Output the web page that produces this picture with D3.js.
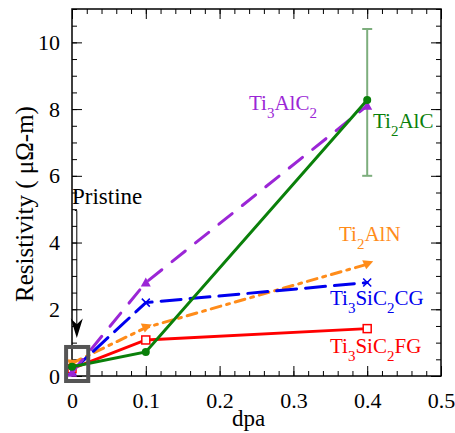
<!DOCTYPE html>
<html><head><meta charset="utf-8"><script src="https://cdn.jsdelivr.net/npm/d3@7"></script></head>
<body style="margin:0">
<script>
var svgWidth = 455;
var svgHeight = 433;

// data
var dpa = [0, 0.1, 0.4];
var ti3alc2 = [0.1, 2.8, 8.1];
var ti2alc = [0.28, 0.72, 8.27];
var ti2aln = [0.38, 1.45, 3.35];
var ti3sic2CG = [0.15, 2.2, 2.8];
var ti3sic2FG = [0.22, 1.08, 1.42];
var ti2alcErr = [6.0, 10.4];   // error bar at 0.4 dpa
var xTicks = [0, 0.1, 0.2, 0.3, 0.4, 0.5];
var yTicks = [0, 2, 4, 6, 8, 10];

var margin = { top: 9, right: 14, bottom: 57, left: 72 };
var width = svgWidth - margin.left - margin.right;
var height = svgHeight - margin.top - margin.bottom;
var FONT = '"Liberation Serif", monospace';

var svg = d3.select("body").append("svg")
    .attr("width", svgWidth)
    .attr("height", svgHeight);

var g = svg.append("g")
    .attr("transform", `translate(${margin.left}, ${margin.top})`);

var x = d3.scaleLinear().domain([0, 0.5]).range([0, width]);
var y = d3.scaleLinear().domain([0, 11]).range([height, 0]);

var minorX = d3.range(0, 0.5001, 0.02);
var minorY = d3.range(0, 11.001, 0.5);

function styleAxis(sel) {
    sel.attr("font-family", null).attr("font-size", null);
    sel.select(".domain").remove();
    sel.selectAll("line").attr("stroke", "#000").attr("stroke-width", 1);
    sel.selectAll("text")
        .style("font-family", FONT)
        .attr("font-size", 22)
        .attr("fill", "#000");
}

// minor ticks (all four sides, pointing in)
g.append("g").attr("transform", `translate(0, ${height})`)
    .call(d3.axisBottom(x).tickValues(minorX).tickSizeInner(-5).tickSizeOuter(0).tickFormat(""))
    .call(styleAxis);
g.append("g")
    .call(d3.axisTop(x).tickValues(minorX).tickSizeInner(-5).tickSizeOuter(0).tickFormat(""))
    .call(styleAxis);
g.append("g")
    .call(d3.axisLeft(y).tickValues(minorY).tickSizeInner(-5).tickSizeOuter(0).tickFormat(""))
    .call(styleAxis);
g.append("g").attr("transform", `translate(${width}, 0)`)
    .call(d3.axisRight(y).tickValues(minorY).tickSizeInner(-5).tickSizeOuter(0).tickFormat(""))
    .call(styleAxis);

// major ticks
g.append("g").attr("transform", `translate(0, ${height})`)
    .call(d3.axisBottom(x).tickValues(xTicks).tickSizeInner(-10).tickSizeOuter(0).tickPadding(16)
        .tickFormat(d => d === 0 ? "0" : d3.format(".1f")(d)))
    .call(styleAxis);
g.append("g")
    .call(d3.axisTop(x).tickValues(xTicks).tickSizeInner(-10).tickSizeOuter(0).tickFormat(""))
    .call(styleAxis);
g.append("g")
    .call(d3.axisLeft(y).tickValues(yTicks).tickSizeInner(-10).tickSizeOuter(0).tickPadding(12))
    .call(styleAxis);
g.append("g").attr("transform", `translate(${width}, 0)`)
    .call(d3.axisRight(y).tickValues(yTicks).tickSizeInner(-10).tickSizeOuter(0).tickFormat(""))
    .call(styleAxis);

// frame
g.append("rect")
    .attr("width", width).attr("height", height)
    .attr("fill", "none").attr("stroke", "#000").attr("stroke-width", 1.5);

// axis titles
g.append("text")
    .attr("x", width / 2 - 8).attr("y", height + 50)
    .attr("text-anchor", "middle")
    .style("font-family", FONT).attr("font-size", 23)
    .text("dpa");

g.append("text")
    .attr("transform", `translate(-39, 195) rotate(-90)`)
    .attr("text-anchor", "middle")
    .style("font-family", FONT).attr("font-size", 25)
    .text("Resistivity ( \u03bc\u03a9-m)");

var line = d3.line().x(d => x(d[0])).y(d => y(d[1]));

var series = [
    { name: "ti3sic2FG", vals: ti3sic2FG, color: "#ff0000", dash: null, marker: "square" },
    { name: "ti2aln", vals: ti2aln, color: "#ff8c1a", dash: "10,6,3,6", marker: "tri" },
    { name: "ti3sic2CG", vals: ti3sic2CG, color: "#0000ee", dash: "20,9", marker: "cross" },
    { name: "ti3alc2", vals: ti3alc2, color: "#9b26d6", dash: "17,13", marker: "triUp" },
    { name: "ti2alc", vals: ti2alc, color: "#0a800a", dash: null, marker: "circle" }
];

// error bar for Ti2AlC
var ex = x(dpa[2]);
g.append("line")
    .attr("x1", ex).attr("x2", ex)
    .attr("y1", y(ti2alcErr[0])).attr("y2", y(ti2alcErr[1]))
    .attr("stroke", "#7dae7d").attr("stroke-width", 2);
ti2alcErr.forEach(function(v) {
    g.append("line")
        .attr("x1", ex - 5).attr("x2", ex + 5)
        .attr("y1", y(v)).attr("y2", y(v))
        .attr("stroke", "#7dae7d").attr("stroke-width", 2);
});

series.forEach(function(s) {
    var pts = dpa.map((d, i) => [d, s.vals[i]]);
    g.append("path")
        .attr("d", line(pts))
        .attr("fill", "none")
        .attr("stroke", s.color)
        .attr("stroke-width", 3)
        .attr("stroke-linecap", s.dash ? "round" : "butt")
        .attr("stroke-dasharray", s.dash);

    pts.forEach(function(p) {
        var px = x(p[0]), py = y(p[1]);
        if (s.marker === "circle") {
            g.append("circle").attr("cx", px).attr("cy", py).attr("r", 4).attr("fill", s.color);
        } else if (s.marker === "square") {
            g.append("rect").attr("x", px - 4).attr("y", py - 4).attr("width", 8).attr("height", 8)
                .attr("fill", "#fff").attr("stroke", s.color).attr("stroke-width", 1.5);
        } else if (s.marker === "cross") {
            g.append("path").attr("d", `M${px - 4},${py - 4}L${px + 4},${py + 4}M${px - 4},${py + 4}L${px + 4},${py - 4}`)
                .attr("stroke", s.color).attr("stroke-width", 1.5);
        } else if (s.marker === "tri") {
            g.append("path").attr("d", `M${px + 6},${py - 3}L${px - 5},${py - 4}L${px - 1},${py + 5}Z`)
                .attr("fill", s.color);
        } else if (s.marker === "triUp") {
            g.append("path").attr("d", `M${px},${py - 5}L${px + 5},${py + 4}L${px - 5},${py + 4}Z`)
                .attr("fill", s.color);
        }
    });
});

// pristine box and arrow
g.append("rect")
    .attr("x", x(-0.008)).attr("y", y(0.87))
    .attr("width", x(0.022) - x(-0.008))
    .attr("height", y(-0.15) - y(0.87))
    .attr("fill", "none").attr("stroke", "#555").attr("stroke-width", 4);

var ax = x(0.0065);
g.append("line")
    .attr("x1", ax).attr("x2", ax)
    .attr("y1", y(4.96)).attr("y2", y(1.3))
    .attr("stroke", "#000").attr("stroke-width", 1);
g.append("line")
    .attr("x1", ax - 2).attr("x2", ax)
    .attr("y1", y(4.96)).attr("y2", y(4.96))
    .attr("stroke", "#000").attr("stroke-width", 1);
g.append("path")
    .attr("d", `M${ax},${y(1.14)}L${ax - 6},${y(1.72)}L${ax},${y(1.55)}L${ax + 6},${y(1.72)}Z`)
    .attr("fill", "#000");

g.append("text")
    .attr("x", 0).attr("y", 204 - margin.top)
    .style("font-family", FONT).attr("font-size", 23)
    .text("Pristine");

// series labels with subscripts
function label(parts, color, lx, ly) {
    var t = g.append("text").attr("x", lx).attr("y", ly).attr("fill", color)
        .style("font-family", FONT).attr("font-size", 21);
    parts.forEach(function(p) {
        if (p.sub) {
            t.append("tspan").attr("dy", 8).attr("font-size", 15).text(p.t);
        } else {
            t.append("tspan").attr("dy", p.up ? -8 : 0).text(p.t);
        }
    });
}

label([{ t: "Ti" }, { t: "3", sub: true }, { t: "AlC", up: true }, { t: "2", sub: true }],
    "#9b26d6", 249 - margin.left, 110 - margin.top);
label([{ t: "Ti" }, { t: "2", sub: true }, { t: "AlC", up: true }],
    "#0a800a", 373 - margin.left, 128 - margin.top);
label([{ t: "Ti" }, { t: "2", sub: true }, { t: "AlN", up: true }],
    "#ff8c1a", 339 - margin.left, 241 - margin.top);
label([{ t: "Ti" }, { t: "3", sub: true }, { t: "SiC", up: true }, { t: "2", sub: true }, { t: "CG", up: true }],
    "#0000ee", 330 - margin.left, 305 - margin.top);
label([{ t: "Ti" }, { t: "3", sub: true }, { t: "SiC", up: true }, { t: "2", sub: true }, { t: "FG", up: true }],
    "#ff0000", 330 - margin.left, 353 - margin.top);
</script>
</body>
</html>
